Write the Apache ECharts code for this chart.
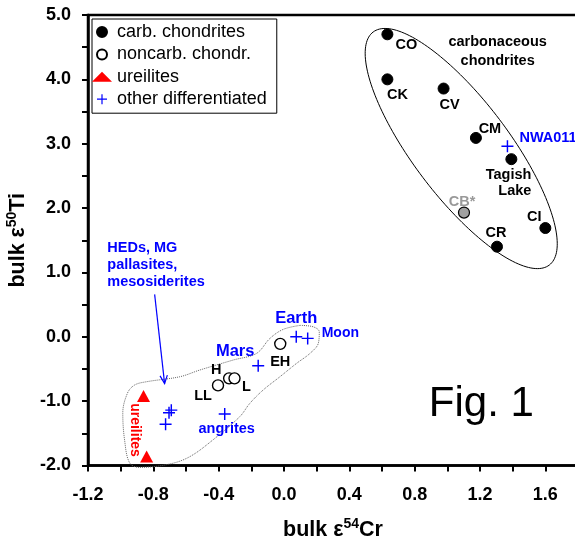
<!DOCTYPE html>
<html>
<head>
<meta charset="utf-8">
<script src="https://cdn.jsdelivr.net/npm/echarts@6/dist/echarts.min.js"></script>
<style>html,body{margin:0;padding:0;background:#fff}#chart{width:575px;height:544px}</style>
</head>
<body>
<div id="chart"></div>
<script>
// ---------- data ----------
const carbNames = ['CO', 'CK', 'CV', 'CM', 'Tagish Lake', 'CI', 'CR'];
const carbCr    = [0.633, 0.633, 0.977, 1.175, 1.392, 1.600, 1.304];
const carbTi    = [4.70, 4.00, 3.857, 3.09, 2.76, 1.69, 1.40];

const cbName = ['CB*'];
const cbCr   = [1.102];
const cbTi   = [1.93];

const noncarbNames = ['EH', 'H', 'L', 'LL'];
const noncarbCr    = [-0.023, -0.336, -0.303, -0.404];
const noncarbTi    = [-0.11, -0.646, -0.646, -0.755];

const ureiliteNames = ['ureilite 1', 'ureilite 2'];
const ureiliteCr    = [-0.860, -0.841];
const ureiliteTi    = [-0.92, -1.86];

const diffNames = ['Earth', 'Moon', 'Mars', 'angrites', 'HED 1', 'HED 2', 'HED 3', 'NWA011'];
const diffCr    = [0.075, 0.145, -0.158, -0.363, -0.690, -0.704, -0.725, 1.368];
const diffTi    = [0.00, -0.025, -0.45, -1.20, -1.14, -1.18, -1.36, 2.96];

// carbonaceous-chondrite ellipse (data units): centre and two semi-axis vectors
const ellipseCenter = [1.085, 2.925];
const ellipseAxisA  = [0.539, -1.811];
const ellipseAxisB  = [0.235, 0.449];

// dotted outline of the differentiated/noncarb group (data units)
const outlineCr = [0.098, 0.179, 0.216, 0.210, 0.159, 0.077, -0.025, -0.128, -0.209, -0.271, -0.436, -0.577, -0.700, -0.884, -0.945, -0.976, -0.987, -0.958, -0.915, -0.843, -0.638, -0.516, -0.312, -0.168, -0.086, -0.005, 0.098];
const outlineTi = [0.177, 0.155, 0.078, -0.102, -0.258, -0.413, -0.621, -0.828, -1.034, -1.242, -1.604, -1.863, -1.977, -2.030, -1.960, -1.604, -1.185, -0.874, -0.750, -0.699, -0.621, -0.517, -0.362, -0.258, -0.025, 0.115, 0.177];

// arrow from HED label to HED points (data units)
const arrowFrom = [-0.792, 0.658];
const arrowTo   = [-0.731, -0.728];

// free annotations
const noteTexts = ['carbonaceous\nchondrites', 'HEDs, MG\npallasites,\nmesosiderites', 'Fig. 1', 'ureilites'];
const noteCr    = [1.308, -1.082, 1.208, -0.915];
const noteTi    = [4.427, 1.113, -1.045, -1.449];

const xTicks = { min: -1.2, max: 1.8, step: 0.2 };
const yTicks = { min: -2.0, max: 5.0, step: 0.5 };

// ---------- styles ----------
const FONT = 'Liberation Sans, Arial, Helvetica, sans-serif';
const BLUE = '#0000ff';
const RED = '#ff0000';
const plusPath = 'path://M4.4,0H5.6V4.4H10V5.6H5.6V10H4.4V5.6H0V4.4H4.4Z';

const lbl = (o) => Object.assign({ show: true, position: 'inside', formatter: '{b}', fontFamily: FONT, fontWeight: 'bold', fontSize: 14.5, color: '#000', opacity: 1 }, o);

const pointLabels = {
  'CO': lbl({ offset: [19, 11] }),
  'CK': lbl({ offset: [10, 16] }),
  'CV': lbl({ offset: [6, 16] }),
  'CM': lbl({ offset: [14, -9] }),
  'Tagish Lake': lbl({ offset: [20, 24], align: 'right', lineHeight: 16, formatter: 'Tagish\nLake' }),
  'CI': lbl({ offset: [-11, -11] }),
  'CR': lbl({ offset: [-1, -14] }),
  'CB*': lbl({ offset: [-2, -11], color: '#999999' }),
  'EH': lbl({ offset: [0, 18] }),
  'H': lbl({ offset: [-13, -8] }),
  'L': lbl({ offset: [12, 9] }),
  'LL': lbl({ offset: [-15, 11] }),
  'Earth': lbl({ offset: [0, -18], color: BLUE, fontSize: 16.5 }),
  'Moon': lbl({ offset: [14, -5], color: BLUE, align: 'left', fontSize: 14 }),
  'Mars': lbl({ offset: [-23, -14], color: BLUE, fontSize: 16.5 }),
  'angrites': lbl({ offset: [2, 15], color: BLUE }),
  'NWA011': lbl({ offset: [12, -8], color: BLUE, align: 'left' })
};

const noteLabels = [
  lbl({ lineHeight: 19 }),
  lbl({ color: BLUE, align: 'left', lineHeight: 17 }),
  lbl({ fontWeight: 'normal', fontSize: 42 }),
  lbl({ color: RED, rotate: -90, fontSize: 14 })
];

function pts(names, xs, ys) {
  return names.map((n, i) => {
    const d = { name: n, value: [xs[i], ys[i]] };
    d.label = pointLabels[n] ? pointLabels[n] : { show: false };
    return d;
  });
}

const titleRich = {
  b: { fontFamily: FONT, fontWeight: 'bold', fontSize: 21.5, color: '#000', lineHeight: 26 },
  s: { fontFamily: FONT, fontWeight: 'bold', fontSize: 14, color: '#000', lineHeight: 15, verticalAlign: 'top' }
};

const chart = echarts.init(document.getElementById('chart'), null, { renderer: 'canvas' });

const option = {
  animation: false,
  backgroundColor: '#fff',
  textStyle: { fontFamily: FONT },
  grid: { left: 88, right: -3, top: 15, bottom: 78.5, show: true, borderColor: '#000', borderWidth: 2.5, containLabel: false, outerBoundsMode: 'none' },
  legend: {
    orient: 'vertical', left: 92, top: 19,
    padding: [4, 10, 5, 0],
    itemWidth: 20, itemHeight: 10, itemGap: 4.4,
    borderColor: '#000', borderWidth: 1, backgroundColor: '#fff',
    selectedMode: false,
    textStyle: { fontFamily: FONT, fontSize: 18, color: '#000', lineHeight: 18 },
    data: ['carb. chondrites', 'noncarb. chondr.', 'ureilites', 'other differentiated']
  },
  xAxis: {
    type: 'value', min: xTicks.min, max: xTicks.max, interval: xTicks.step,
    splitLine: { show: false },
    axisLine: { onZero: false, lineStyle: { color: '#000', width: 2.5 } },
    axisTick: { show: true, length: 6, inside: false, lineStyle: { color: '#000', width: 2 } },
    axisLabel: {
      margin: 21, fontFamily: FONT, fontWeight: 'bold', fontSize: 18, color: '#000',
      showMaxLabel: false,
      formatter: (v) => { const k = Math.round(v * 10); if (Math.abs(v * 10 - k) > 1e-6) return ''; return (k % 4 === 0) ? (k / 10).toFixed(1) : ''; }
    },
    name: '{b|bulk ε}{s|54}{b|Cr}', nameLocation: 'middle', nameGap: 52,
    nameTextStyle: { rich: titleRich }
  },
  yAxis: {
    type: 'value', min: yTicks.min, max: yTicks.max, interval: yTicks.step,
    splitLine: { show: false },
    axisLine: { onZero: false, lineStyle: { color: '#000', width: 2.5 } },
    axisTick: { show: true, length: 6, inside: false, lineStyle: { color: '#000', width: 2 } },
    axisLabel: {
      margin: 17, fontFamily: FONT, fontWeight: 'bold', fontSize: 18, color: '#000',
      formatter: (v) => { const k = Math.round(v * 2); return (k % 2 === 0) ? (k / 2).toFixed(1) : ''; }
    },
    name: '{b|bulk ε}{s|50}{b|Ti}', nameLocation: 'middle', nameGap: 53, nameRotate: 90,
    nameTextStyle: { rich: titleRich }
  },
  series: [
    {
      type: 'line', name: 'outline', silent: true, clip: false, z: 1,
      smooth: 0.35, showSymbol: false, symbol: 'none',
      lineStyle: { type: 'dotted', color: '#666', width: 1 },
      data: outlineCr.map((x, i) => [x, outlineTi[i]])
    },
    {
      type: 'custom', name: 'ellipse', silent: true, z: 1,
      data: [[ellipseCenter[0], ellipseCenter[1]]],
      encode: { x: 0, y: 1 },
      renderItem: (params, api) => {
        const p = [];
        for (let i = 0; i <= 180; i++) {
          const t = i / 180 * 2 * Math.PI;
          const x = ellipseCenter[0] + Math.cos(t) * ellipseAxisA[0] + Math.sin(t) * ellipseAxisB[0];
          const y = ellipseCenter[1] + Math.cos(t) * ellipseAxisA[1] + Math.sin(t) * ellipseAxisB[1];
          p.push(api.coord([x, y]));
        }
        return { type: 'polygon', shape: { points: p }, style: { fill: 'none', stroke: '#000', lineWidth: 1 } };
      }
    },
    {
      type: 'custom', name: 'arrow', silent: true, z: 2,
      data: [[arrowFrom[0], arrowFrom[1], arrowTo[0], arrowTo[1]]],
      encode: { x: [0, 2], y: [1, 3] },
      renderItem: (params, api) => {
        const a = api.coord([api.value(0), api.value(1)]);
        const b = api.coord([api.value(2), api.value(3)]);
        const ang = Math.atan2(b[1] - a[1], b[0] - a[0]);
        const L = 9, w = 0.42;
        const h1 = [b[0] - L * Math.cos(ang - w), b[1] - L * Math.sin(ang - w)];
        const h2 = [b[0] - L * Math.cos(ang + w), b[1] - L * Math.sin(ang + w)];
        return {
          type: 'group', children: [
            { type: 'line', shape: { x1: a[0], y1: a[1], x2: b[0], y2: b[1] }, style: { stroke: BLUE, lineWidth: 1.2 } },
            { type: 'polyline', shape: { points: [h1, b, h2] }, style: { stroke: BLUE, lineWidth: 1.2, fill: 'none' } }
          ]
        };
      }
    },
    {
      type: 'scatter', name: 'carb. chondrites', z: 4,
      symbol: 'circle', symbolSize: 11,
      itemStyle: { color: '#000', borderColor: '#000', borderWidth: 1, opacity: 1 },
      data: pts(carbNames, carbCr, carbTi)
    },
    {
      type: 'scatter', name: 'CB', z: 4,
      symbol: 'circle', symbolSize: 11,
      itemStyle: { color: '#a0a0a0', borderColor: '#000', borderWidth: 1.2, opacity: 1 },
      data: pts(cbName, cbCr, cbTi)
    },
    {
      type: 'scatter', name: 'noncarb. chondr.', z: 4,
      symbol: 'circle', symbolSize: 11,
      itemStyle: { color: '#fff', borderColor: '#000', borderWidth: 1.4, opacity: 1 },
      data: pts(noncarbNames, noncarbCr, noncarbTi)
    },
    {
      type: 'scatter', name: 'ureilites', z: 4,
      symbol: 'triangle', symbolSize: [13, 12],
      itemStyle: { color: RED, opacity: 1 },
      data: ureiliteNames.map((n, i) => ({ name: n, value: [ureiliteCr[i], ureiliteTi[i]] }))
    },
    {
      type: 'scatter', name: 'other differentiated', z: 5,
      symbol: plusPath, symbolSize: 12,
      itemStyle: { color: BLUE, opacity: 1 },
      data: pts(diffNames, diffCr, diffTi)
    },
    {
      type: 'scatter', name: 'notes', z: 6, silent: true,
      symbolSize: 0,
      itemStyle: { opacity: 1 },
      data: noteTexts.map((t, i) => ({ name: t, value: [noteCr[i], noteTi[i]], label: Object.assign({}, noteLabels[i], { formatter: t }) }))
    }
  ]
};
chart.setOption(option);
</script>
</body>
</html>
